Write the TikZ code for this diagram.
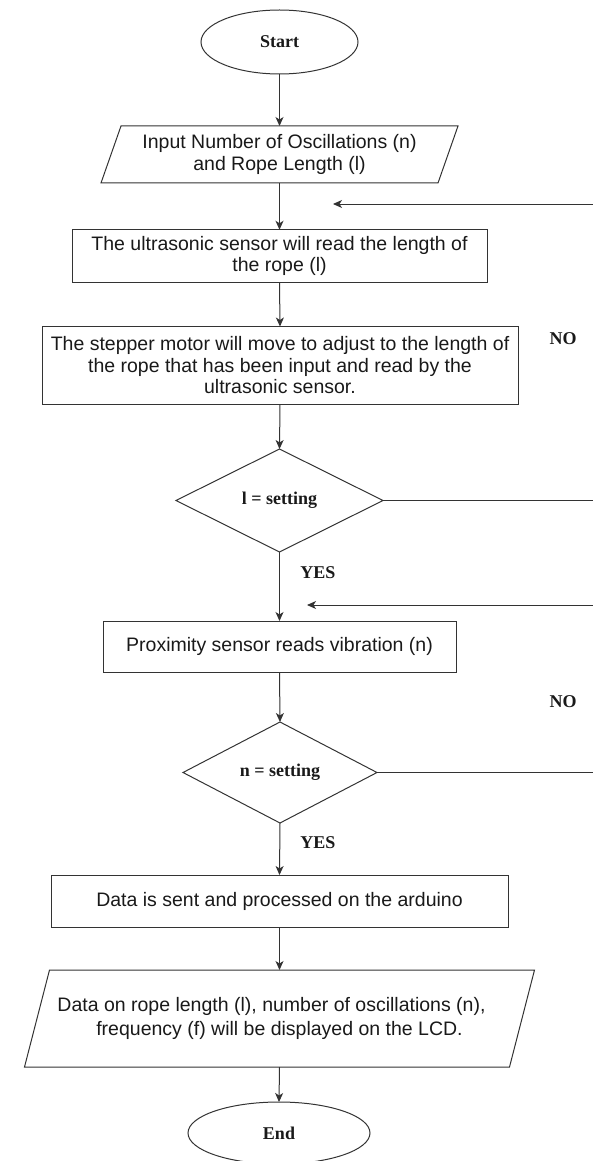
\documentclass[tikz,border=0pt]{standalone}
\usepackage{fontspec}
\setmainfont{Liberation Sans}
\newfontfamily\lblserif{Liberation Serif}
\usetikzlibrary{shapes.geometric,arrows.meta}
\definecolor{lc}{gray}{0.2}
\definecolor{tc}{gray}{0.1}
\begin{document}
\begin{tikzpicture}[x=1pt,y=-1pt,line width=1pt,
  every node/.style={inner sep=0pt,outer sep=0pt,text=tc},
  sanstext/.style={font=\fontsize{19.5}{21.5}\selectfont,align=center},
  serlbl/.style={font=\lblserif\bfseries\fontsize{18}{20}\selectfont},
  procbox/.style={sanstext,draw=lc,rectangle},
  iobox/.style={sanstext,rectangle},
  termbox/.style={serlbl,draw=lc,ellipse},
  decbox/.style={serlbl,draw=lc,diamond},
  flow/.style={draw=lc,-{Stealth[length=9pt,width=8pt,inset=2.5pt]}},
  plain/.style={draw=lc}]
\useasboundingbox (0,0) rectangle (593,1161);

% nodes
\node[termbox,minimum width=157pt,minimum height=64pt] (start) at (279.5,42) {Start};
\node[iobox,minimum width=337pt,minimum height=57pt] (in) at (279.5,154.5)
  {Input Number of Oscillations (n)\\and Rope Length (l)};
\draw[lc] ([xshift=10pt]in.north west) -- ([xshift=10pt]in.north east)
  -- ([xshift=-10pt]in.south east) -- ([xshift=-10pt]in.south west) -- cycle;
\node[procbox,minimum width=415pt,minimum height=52.5pt] (us) at (279.5,256)
  {The ultrasonic sensor will read the length of\\the rope (l)};
\node[procbox,minimum width=476pt,minimum height=78pt] (st) at (280,365.5)
  {The stepper motor will move to adjust to the length of\\the rope that has been input and read by the\\ultrasonic sensor.};
\node[decbox,minimum width=207pt,minimum height=103pt] (d1) at (279.5,500.5) {l = setting};
\node[procbox,minimum width=353pt,minimum height=51pt] (px) at (279.5,646.5)
  {Proximity sensor reads vibration (n)};
\node[decbox,minimum width=194pt,minimum height=101pt] (d2) at (280,772.5) {n = setting};
\node[procbox,minimum width=457pt,minimum height=52pt] (dt) at (279.5,901)
  {Data is sent and processed on the arduino};
\node[iobox,minimum width=485pt,minimum height=97pt,font=\fontsize{19.5}{23.5}\selectfont] (out) at (279.5,1018.5)
  {Data on rope length (l), number of oscillations (n),\hspace*{16pt}\\frequency (f) will be displayed on the LCD.};
\draw[lc] ([xshift=12.5pt]out.north west) -- ([xshift=12.5pt]out.north east)
  -- ([xshift=-12.5pt]out.south east) -- ([xshift=-12.5pt]out.south west) -- cycle;
\node[termbox,minimum width=182pt,minimum height=62pt] (end) at (279,1133) {End};

% labels
\node[serlbl] (no1) at (563,339) {NO};
\node[serlbl] (no2) at (563,702) {NO};
\node[serlbl] (yes1) at (318,573) {YES};
\node[serlbl] (yes2) at (318,843) {YES};

% loose ends
\coordinate (fb1s) at (593,204);
\coordinate (fb1e) at (333,204);
\coordinate (fb2s) at (593,605);
\coordinate (fb2e) at (307,605);
\coordinate (d1r) at (593,500.5);
\coordinate (d2r) at (593,772.5);

% main flow
\draw[flow] (start.south) -- (in.north);
\draw[flow] (in.south) -- (us.north);
\draw[flow] (us.south) -- (st.north);
\draw[flow] (st.south) -- (d1.north);
\draw[flow] (d1.south) -- (px.north);
\draw[flow] (px.south) -- (d2.north);
\draw[flow] (d2.south) -- (dt.north);
\draw[flow] (dt.south) -- (out.north);
\draw[flow] (out.south) -- (end.north);

% NO branches
\draw[plain] (d1.east) -- (d1r);
\draw[plain] (d2.east) -- (d2r);
\draw[flow] (fb1s) -- (fb1e);
\draw[flow] (fb2s) -- (fb2e);
\end{tikzpicture}
\end{document}
